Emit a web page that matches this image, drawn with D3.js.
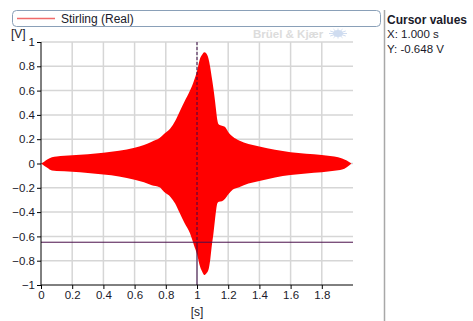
<!DOCTYPE html>
<html>
<head>
<meta charset="utf-8">
<script src="https://cdn.jsdelivr.net/npm/d3@7"></script>
<style>
  html, body { margin: 0; padding: 0; background: #fff; }
  svg { display: block; }
  text { font-family: "Liberation Sans", Arial, sans-serif; fill: #1a1a2a; }
</style>
</head>
<body>
<svg id="chart" width="473" height="321"></svg>
<script>
// Envelope of the "Stirling (Real)" time signal (upper and lower bounds of the fast oscillation)
const time = [0, 0.02, 0.04, 0.07, 0.1, 0.2, 0.3, 0.4, 0.5, 0.6, 0.66, 0.71, 0.76, 0.79, 0.83, 0.86, 0.89, 0.92, 0.955, 0.98,
  1.0, 1.02, 1.035, 1.047, 1.06, 1.073, 1.085, 1.094, 1.105, 1.115, 1.123, 1.13, 1.14, 1.16, 1.18, 1.2, 1.23, 1.27, 1.33,
  1.4, 1.5, 1.6, 1.7, 1.8, 1.88, 1.93, 1.96, 1.99];
const upper = [0, 0.015, 0.032, 0.052, 0.058, 0.067, 0.077, 0.088, 0.104, 0.13, 0.152, 0.18, 0.21, 0.245, 0.29, 0.35, 0.43, 0.51, 0.60, 0.68,
  0.76, 0.866, 0.90, 0.915, 0.905, 0.866, 0.79, 0.714, 0.62, 0.52, 0.43, 0.36, 0.32, 0.31, 0.30, 0.26, 0.22, 0.19, 0.16,
  0.14, 0.113, 0.093, 0.08, 0.07, 0.057, 0.042, 0.025, 0];
const lower = [0, -0.018, -0.035, -0.058, -0.062, -0.067, -0.078, -0.09, -0.106, -0.134, -0.155, -0.18, -0.195, -0.235, -0.275, -0.33, -0.41, -0.49, -0.575, -0.67,
  -0.745, -0.85, -0.895, -0.918, -0.905, -0.877, -0.79, -0.685, -0.58, -0.465, -0.38, -0.33, -0.315, -0.31, -0.29, -0.255, -0.215, -0.195, -0.165,
  -0.144, -0.115, -0.095, -0.082, -0.073, -0.06, -0.05, -0.03, 0];

const xTicks = [0, 0.2, 0.4, 0.6, 0.8, 1, 1.2, 1.4, 1.6, 1.8];
const yTicks = [-1, -0.8, -0.6, -0.4, -0.2, 0, 0.2, 0.4, 0.6, 0.8, 1];
const seriesName = "Stirling (Real)";
const cursorX = 1.0;
const cursorY = -0.648;

const svg = d3.select("#chart");
const x = d3.scaleLinear().domain([0, 2]).range([41, 353]);
const y = d3.scaleLinear().domain([-1, 1]).range([285, 42]);

// grid
const grid = svg.append("g");
grid.selectAll(".gx").data(xTicks.filter(d => d > 0)).join("line")
  .attr("x1", d => x(d)).attr("x2", d => x(d)).attr("y1", y(1)).attr("y2", y(-1))
  .attr("stroke", "#d6d6d6").attr("stroke-width", 1.5);
grid.selectAll(".gy").data(yTicks.filter(d => d > -1)).join("line")
  .attr("x1", x(0)).attr("x2", x(2)).attr("y1", d => y(d)).attr("y2", d => y(d))
  .attr("stroke", "#d6d6d6").attr("stroke-width", 1.5);

// signal envelope
const pts = time.map((t, i) => ({ t, hi: upper[i], lo: lower[i] }));
const area = d3.area()
  .x(d => x(d.t)).y0(d => y(d.lo)).y1(d => y(d.hi))
  .curve(d3.curveMonotoneX);
svg.append("path").datum(pts).attr("d", area).attr("fill", "#ff0000");

// cursors
svg.append("line")
  .attr("x1", x(0)).attr("x2", x(2)).attr("y1", y(cursorY)).attr("y2", y(cursorY))
  .attr("stroke", "#4a0f4a").attr("stroke-width", 1);
svg.append("line")
  .attr("x1", x(cursorX)).attr("x2", x(cursorX)).attr("y1", y(1)).attr("y2", y(cursorY))
  .attr("stroke", "#3a0a45").attr("stroke-width", 1).attr("stroke-dasharray", "3,2");
svg.append("line")
  .attr("x1", x(cursorX)).attr("x2", x(cursorX)).attr("y1", y(cursorY)).attr("y2", y(-1))
  .attr("stroke", "#3a0a45").attr("stroke-width", 1);

// axes
const xAxis = d3.axisBottom(x).tickValues(xTicks).tickSize(4).tickPadding(2)
  .tickFormat(d => d3.format("~g")(d));
const gx = svg.append("g").attr("transform", `translate(0,${y(-1)})`).call(xAxis);
gx.select(".domain").attr("d", `M${x(0)},0H${x(2)}`).attr("stroke", "#000");
gx.selectAll(".tick line").attr("stroke", "#000");
gx.selectAll("text").attr("font-size", 11.5).attr("font-family", "Liberation Sans, Arial, sans-serif").attr("fill", "#1a1a2a");

const yAxis = d3.axisLeft(y).tickValues(yTicks).tickSize(4).tickPadding(2)
  .tickFormat(d => d3.format("~g")(d));
const gy = svg.append("g").attr("transform", `translate(${x(0)},0)`).call(yAxis);
gy.select(".domain").attr("d", `M0,${y(1)}V${y(-1)}`).attr("stroke", "#000");
gy.selectAll(".tick line").attr("stroke", "#000");
gy.selectAll("text").attr("font-size", 11.5).attr("font-family", "Liberation Sans, Arial, sans-serif").attr("fill", "#1a1a2a");

// unit labels
svg.append("text").attr("x", 11).attr("y", 38).attr("font-size", 12).text("[V]");
svg.append("text").attr("x", x(1)).attr("y", 316).attr("font-size", 12).attr("text-anchor", "middle").text("[s]");

// legend
svg.append("rect").attr("x", 12.5).attr("y", 10.5).attr("width", 368).attr("height", 16).attr("rx", 4)
  .attr("fill", "#fff").attr("stroke", "#8aa0b8");
svg.append("line").attr("x1", 17).attr("x2", 55).attr("y1", 18.5).attr("y2", 18.5)
  .attr("stroke", "#f06a6a").attr("stroke-width", 1.5);
svg.append("text").attr("x", 61).attr("y", 23).attr("font-size", 12).text(seriesName);

// watermark
const wm = svg.append("g");
wm.append("text").attr("x", 253).attr("y", 37.5).attr("font-size", 11.5).attr("font-weight", "bold")
  .attr("fill", "#dcdcdc").style("fill", "#dcdcdc").text("Brüel & Kjær");
const logo = wm.append("g").attr("transform", "translate(338,33.5)");
logo.append("ellipse").attr("rx", 5).attr("ry", 3.5).attr("fill", "#cfdcf0");
d3.range(12).forEach(i => {
  const a = i * Math.PI / 6;
  logo.append("line").attr("x1", 0).attr("y1", 0)
    .attr("x2", Math.cos(a) * 9).attr("y2", Math.sin(a) * 5)
    .attr("stroke", "#cfdcf0").attr("stroke-width", 1);
});

// cursor panel
svg.append("line").attr("x1", 384.5).attr("x2", 384.5).attr("y1", 10).attr("y2", 321)
  .attr("stroke", "#a8a8a8").attr("stroke-width", 1.5);
svg.append("text").attr("x", 387).attr("y", 23.5).attr("font-size", 12).attr("font-weight", "bold").text("Cursor values");
svg.append("text").attr("x", 387).attr("y", 38).attr("font-size", 11.5).text(`X: ${cursorX.toFixed(3)} s`);
svg.append("text").attr("x", 387).attr("y", 53).attr("font-size", 11.5).text(`Y: ${cursorY.toFixed(3)} V`);
</script>
</body>
</html>
